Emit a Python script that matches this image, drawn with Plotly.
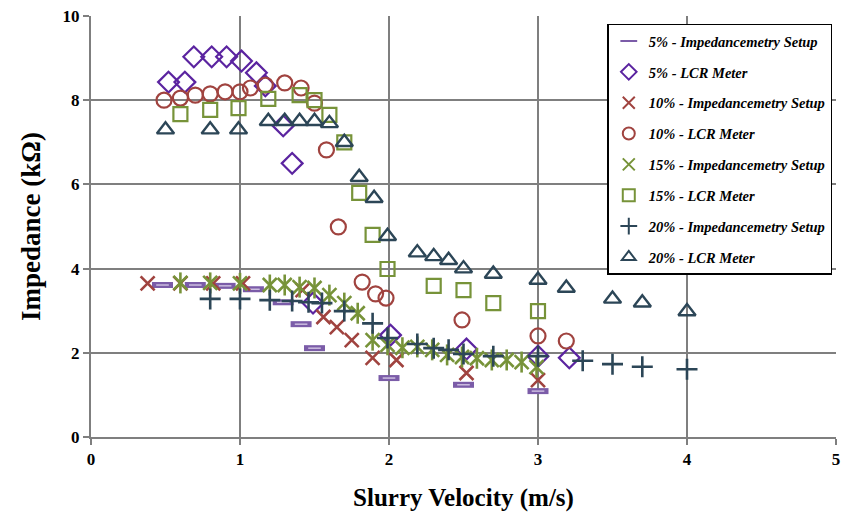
import plotly.graph_objects as go

# ---- data ----
v5_imp = [0.48, 0.70, 0.90, 1.09, 1.29, 1.41, 1.50, 2.00, 2.50, 3.00]
z5_imp = [3.61, 3.61, 3.59, 3.51, 3.20, 2.68, 2.11, 1.40, 1.24, 1.09]

v5_lcr = [0.52, 0.63, 0.69, 0.81, 0.91, 1.01, 1.11, 1.17, 1.29, 1.35, 1.49, 2.01, 2.52, 3.00, 3.21]
z5_lcr = [8.43, 8.43, 9.03, 9.03, 9.03, 8.93, 8.65, 8.34, 7.39, 6.50, 3.18, 2.42, 2.09, 1.92, 1.88]

v10_imp = [0.38, 0.60, 0.82, 1.02, 1.42, 1.56, 1.65, 1.75, 1.89, 2.05, 2.52, 3.00]
z10_imp = [3.65, 3.65, 3.65, 3.65, 3.49, 2.85, 2.61, 2.30, 1.88, 1.83, 1.52, 1.35]

v10_lcr = [0.49, 0.60, 0.70, 0.80, 0.90, 1.00, 1.07, 1.17, 1.30, 1.41, 1.50, 1.58, 1.66, 1.82, 1.91, 1.98, 2.49, 3.00, 3.19]
z10_lcr = [8.00, 8.05, 8.12, 8.15, 8.20, 8.20, 8.29, 8.36, 8.41, 8.29, 7.93, 6.82, 4.99, 3.68, 3.40, 3.30, 2.78, 2.40, 2.28]

v15_imp = [0.60, 0.80, 1.00, 1.20, 1.30, 1.40, 1.50, 1.60, 1.70, 1.79, 1.89, 1.99, 2.09, 2.19, 2.29, 2.39, 2.49, 2.59, 2.69, 2.79, 2.89, 2.99]
z15_imp = [3.66, 3.66, 3.65, 3.61, 3.61, 3.56, 3.54, 3.37, 3.18, 2.94, 2.30, 2.19, 2.12, 2.14, 2.07, 1.95, 1.90, 1.87, 1.83, 1.83, 1.78, 1.66]

v15_lcr = [0.60, 0.80, 0.99, 1.19, 1.40, 1.50, 1.60, 1.70, 1.80, 1.89, 1.99, 2.30, 2.50, 2.70, 3.00]
z15_lcr = [7.67, 7.77, 7.81, 8.03, 8.12, 8.00, 7.65, 7.00, 5.80, 4.80, 3.99, 3.59, 3.49, 3.18, 2.99]

v20_imp = [0.80, 1.00, 1.20, 1.35, 1.46, 1.55, 1.70, 1.89, 1.99, 2.19, 2.30, 2.40, 2.50, 2.70, 3.00, 3.30, 3.50, 3.70, 4.00]
z20_imp = [3.28, 3.28, 3.25, 3.23, 3.20, 3.18, 2.99, 2.70, 2.35, 2.21, 2.11, 2.07, 1.97, 1.92, 1.92, 1.81, 1.73, 1.67, 1.61]

v20_lcr = [0.50, 0.80, 0.99, 1.19, 1.30, 1.40, 1.50, 1.60, 1.70, 1.80, 1.90, 1.99, 2.19, 2.30, 2.40, 2.50, 2.70, 3.00, 3.19, 3.50, 3.70, 4.00]
z20_lcr = [7.30, 7.30, 7.30, 7.50, 7.50, 7.50, 7.50, 7.45, 7.00, 6.17, 5.67, 4.77, 4.38, 4.29, 4.20, 4.00, 3.87, 3.73, 3.54, 3.28, 3.19, 2.98]

names = ["5% - Impedancemetry Setup", "5% - LCR Meter",
         "10% - Impedancemetry Setup", "10% - LCR Meter",
         "15% - Impedancemetry Setup", "15% - LCR Meter",
         "20% - Impedancemetry Setup", "20% - LCR Meter"]

C_PURPLE_D = "#7B5CA8"
C_PURPLE = "#5B24A0"
C_RED = "#A0433F"
C_GREEN = "#779339"
C_SLATE = "#2C4657"

FONT = "Liberation Serif, Times New Roman, serif"

fig = go.Figure()

def add(x, y, name, symbol, color, size, lw, group, legend=True):
    fig.add_trace(go.Scatter(
        x=x, y=y, mode="markers", name=name, legendgroup=group,
        showlegend=legend,
        marker=dict(symbol=symbol, size=size, color=color,
                    line=dict(color=color, width=lw)),
    ))

# 5% impedancemetry: dash marker (purple bar with light centre)
add(v5_imp, z5_imp, names[0], "line-ew-open", C_PURPLE_D, 15, 6, "g0")
add(v5_imp, z5_imp, names[0], "line-ew-open", "#D8CCE8", 9, 1.3, "g0", legend=False)
# 5% LCR
add(v5_lcr, z5_lcr, names[1], "diamond-open", C_PURPLE, 16, 2.2, "g1")
# 10% impedancemetry
add(v10_imp, z10_imp, names[2], "x-thin-open", C_RED, 14, 2.6, "g2")
# 10% LCR
add(v10_lcr, z10_lcr, names[3], "circle-open", C_RED, 15, 2.2, "g3")
# 15% impedancemetry: star (x + vertical bar)
add(v15_imp, z15_imp, names[4], "x-thin-open", C_GREEN, 14, 2.6, "g4")
add(v15_imp, z15_imp, names[4], "line-ns-open", C_GREEN, 15, 2.6, "g4", legend=False)
# 15% LCR
add(v15_lcr, z15_lcr, names[5], "square-open", C_GREEN, 14, 2.2, "g5")
# 20% impedancemetry
add(v20_imp, z20_imp, names[6], "cross-thin-open", C_SLATE, 15, 2.6, "g6")
# 20% LCR
add(v20_lcr, z20_lcr, names[7], "triangle-up-open", C_SLATE, 15, 2.4, "g7")

axis_common = dict(
    showgrid=True, gridcolor="#7F7F7F", gridwidth=1.6,
    showline=True, linecolor="#7F7F7F", linewidth=2,
    ticks="outside", ticklen=6, tickcolor="#7F7F7F", tickwidth=1.6,
    zeroline=False, automargin=False,
    tickfont=dict(family=FONT, size=17, color="black", weight="bold"),
)

fig.update_xaxes(range=[0, 5], dtick=1, **axis_common,
                 title=dict(text="Slurry Velocity (m/s)", standoff=20,
                            font=dict(family=FONT, size=25, color="black", weight="bold")))
fig.update_yaxes(range=[0, 10], dtick=2, **axis_common,
                 title=dict(text="Impedance (kΩ)", standoff=14,
                            font=dict(family=FONT, size=27, color="black", weight="bold")))

fig.update_layout(
    width=841, height=522,
    margin=dict(l=91, r=5, t=16, b=85),
    plot_bgcolor="white", paper_bgcolor="white",
    legend=dict(
        x=0.693, y=0.982, xanchor="left", yanchor="top",
        bgcolor="white", bordercolor="black", borderwidth=1.5,
        font=dict(family=FONT, size=14.5, color="black", weight="bold", style="italic"),
        tracegroupgap=9, itemwidth=30, itemsizing="constant",
    ),
)

fig.write_html("out.html")
